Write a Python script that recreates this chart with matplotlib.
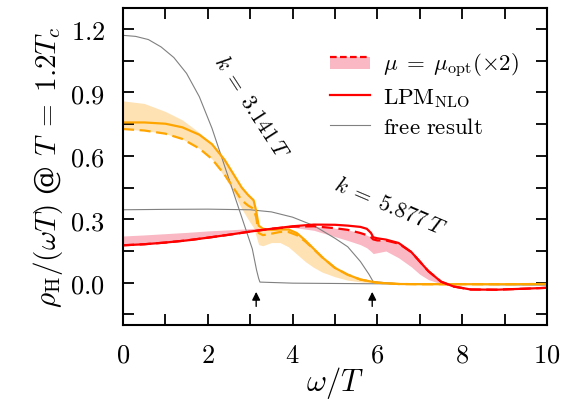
import numpy as np
import matplotlib
matplotlib.use("Agg")
import matplotlib.pyplot as plt
from matplotlib.lines import Line2D
from matplotlib.patches import Rectangle
from matplotlib.legend_handler import HandlerBase

plt.rcParams['mathtext.fontset'] = 'cm'
plt.rcParams['font.family'] = 'serif'
plt.rcParams['font.serif'] = ['DejaVu Serif']

# free results (gray)
free1_x = [0, 0.3, 0.6, 0.9, 1.2, 1.5, 1.8, 2.1, 2.35, 2.6, 2.85, 3.05, 3.15, 3.2, 3.23, 4, 6, 8, 10]
free1_y = [1.17, 1.165, 1.15, 1.115, 1.065, 0.99, 0.88, 0.73, 0.58, 0.43, 0.28, 0.16, 0.06, 0.02, 0.003,
           -0.002, -0.005, -0.008, -0.01]
free2_x = [0, 1, 2, 3, 3.5, 4, 4.5, 5, 5.3, 5.6, 5.8, 5.9, 6.5, 8, 10]
free2_y = [0.345, 0.347, 0.348, 0.345, 0.335, 0.31, 0.27, 0.21, 0.17, 0.1, 0.04, 0.005, -0.005, -0.008, -0.01]

# k = 3.141 T (orange)
xo = [0, 0.5, 1.0, 1.4, 1.8, 2.1, 2.4, 2.6, 2.8, 2.95, 3.08, 3.14, 3.2, 3.3, 3.5, 3.7, 3.9, 4.1, 4.3,
      4.5, 4.7, 5.0, 5.3, 5.6, 6.0, 6.5, 7, 8, 9, 10]
o_solid = [0.758, 0.758, 0.752, 0.735, 0.70, 0.655, 0.58, 0.515, 0.45, 0.415, 0.39, 0.34, 0.27, 0.255,
           0.25, 0.252, 0.252, 0.235, 0.2, 0.16, 0.12, 0.07, 0.038, 0.015, 0.0, -0.006, -0.007, -0.007,
           -0.007, -0.006]
o_dash = [0.727, 0.72, 0.705, 0.68, 0.635, 0.585, 0.51, 0.45, 0.39, 0.365, 0.35, 0.31, 0.235, 0.225,
          0.232, 0.24, 0.24, 0.225, 0.195, 0.158, 0.12, 0.07, 0.038, 0.015, 0.0, -0.006, -0.007, -0.007,
          -0.007, -0.006]
o_hi = [0.86, 0.848, 0.81, 0.77, 0.71, 0.655, 0.58, 0.515, 0.45, 0.415, 0.39, 0.34, 0.27, 0.255,
        0.25, 0.252, 0.252, 0.235, 0.2, 0.16, 0.12, 0.07, 0.038, 0.015, 0.0, -0.006, -0.007, -0.007,
        -0.007, -0.006]
o_lo = [0.727, 0.72, 0.705, 0.68, 0.635, 0.585, 0.5, 0.43, 0.35, 0.3, 0.26, 0.22, 0.18, 0.175,
        0.19, 0.19, 0.17, 0.135, 0.1, 0.072, 0.05, 0.028, 0.012, 0.004, -0.003, -0.006, -0.007, -0.007,
        -0.007, -0.006]

# k = 5.877 T (red)
xr = [0, 0.5, 1, 1.5, 2, 2.5, 3, 3.5, 4, 4.5, 5, 5.3, 5.6, 5.75, 5.85, 5.9, 6.0, 6.2, 6.5, 6.8, 7.0,
      7.2, 7.5, 7.8, 8.2, 8.8, 9.5, 10]
r_solid = [0.177, 0.182, 0.19, 0.2, 0.213, 0.227, 0.242, 0.255, 0.267, 0.275, 0.274, 0.27, 0.264, 0.255,
           0.235, 0.215, 0.21, 0.204, 0.188, 0.145, 0.1, 0.055, 0.005, -0.018, -0.032, -0.033, -0.028, -0.024]
r_dash = [0.177, 0.182, 0.19, 0.2, 0.213, 0.227, 0.242, 0.255, 0.265, 0.267, 0.258, 0.25, 0.235, 0.225,
          0.215, 0.205, 0.2, 0.2, 0.185, 0.145, 0.1, 0.055, 0.005, -0.018, -0.032, -0.033, -0.028, -0.024]
r_hi = [0.221, 0.226, 0.232, 0.238, 0.245, 0.25, 0.256, 0.262, 0.267, 0.267, 0.258, 0.25, 0.235, 0.225,
        0.215, 0.205, 0.2, 0.2, 0.185, 0.145, 0.1, 0.055, 0.005, -0.018, -0.032, -0.033, -0.028, -0.024]
r_lo = [0.177, 0.182, 0.19, 0.2, 0.213, 0.227, 0.242, 0.255, 0.262, 0.248, 0.218, 0.2, 0.18, 0.165,
        0.148, 0.138, 0.142, 0.15, 0.118, 0.075, 0.04, 0.015, -0.005, -0.018, -0.032, -0.033, -0.028, -0.024]

k_vals = [3.141, 5.877]
xticks = [0, 2, 4, 6, 8, 10]
yticks = [0.0, 0.3, 0.6, 0.9, 1.2]

orange = '#FFA500'
orange_band = '#FFE2B4'
red = '#FF0000'
pink = '#F9B8C4'


class BandDash(HandlerBase):
    # pink band with the dashed line along its top edge
    def create_artists(self, legend, orig_handle, xdescent, ydescent, width, height, fontsize, trans):
        x0, y0 = -xdescent, -ydescent
        r = Rectangle((x0, y0 + 0.05 * height), width, 0.8 * height, facecolor=pink, lw=0, transform=trans)
        l = Line2D([x0, x0 + width], [y0 + 0.85 * height] * 2, color=red, lw=1.6,
                   ls=(0, (3, 1.5)), transform=trans)
        return [r, l]


fig = plt.figure(figsize=(5.64, 4.02), dpi=100)
ax = fig.add_axes([0.218, 0.189, 0.752, 0.789])

ax.fill_between(xo, o_lo, o_hi, color=orange_band, lw=0)
ax.fill_between(xr, r_lo, r_hi, color=pink, lw=0)

ax.plot(free1_x, free1_y, color='gray', lw=0.8)
ax.plot(free2_x, free2_y, color='gray', lw=0.8)

ax.plot(xo, o_dash, color=orange, lw=1.6, ls=(0, (5, 2.5)))
ax.plot(xo, o_solid, color=orange, lw=1.6)
ax.plot(xr, r_dash, color=red, lw=1.6, ls=(0, (5, 2.5)))
ax.plot(xr, r_solid, color=red, lw=1.6)

for k in k_vals:
    ax.annotate('', xy=(k, -0.03), xytext=(k, -0.125),
                arrowprops=dict(arrowstyle='-|>', color='black', lw=1.0, mutation_scale=12))

ax.text(3.03, 0.835, r'$k\;=\;3.141\,T$', rotation=-57, fontsize=16, ha='center', va='center')
ax.text(6.3, 0.362, r'$k\;=\;5.877\,T$', rotation=-23, fontsize=16, ha='center', va='center')

ax.set_xlim(0, 10)
ax.set_ylim(-0.2, 1.3)
ax.set_xticks(xticks)
ax.set_xticklabels(['$%d$' % t for t in xticks])
ax.set_xticks(np.arange(1, 10, 2), minor=True)
ax.set_yticks(yticks)
ax.set_yticklabels(['$%.1f$' % t for t in yticks])
ax.set_yticks(np.arange(-0.15, 1.3, 0.3), minor=True)
ax.tick_params(which='both', direction='in', top=True, right=True, length=8, width=1.3,
               labelsize=19)
ax.tick_params(axis='y', pad=13)
ax.tick_params(axis='x', pad=12)
for s in ax.spines.values():
    s.set_linewidth(1.5)

ax.set_xlabel(r'$\omega/T$', fontsize=22, labelpad=-2)
ax.set_ylabel(r'$\rho_{\rm H}/(\omega T)$ @ $T\;=\;1.2T_c$', fontsize=21, labelpad=4)

h1 = Rectangle((0, 0), 1, 1)
h2 = Line2D([], [], color=red, lw=1.6)
h3 = Line2D([], [], color='gray', lw=0.8)
ax.legend([h1, h2, h3], [r'$\mu\;=\;\mu_{\rm opt}(\times 2)$', r'$\mathrm{LPM}_{\mathrm{NLO}}$',
                          r'$\mathrm{free\ result}$'],
          handler_map={h1: BandDash()},
          loc='upper left', bbox_to_anchor=(0.467, 0.893), borderaxespad=0, frameon=False,
          fontsize=16.5, handlelength=1.75, handletextpad=0.55, labelspacing=0.3)

fig.savefig('out.png', dpi=100)
